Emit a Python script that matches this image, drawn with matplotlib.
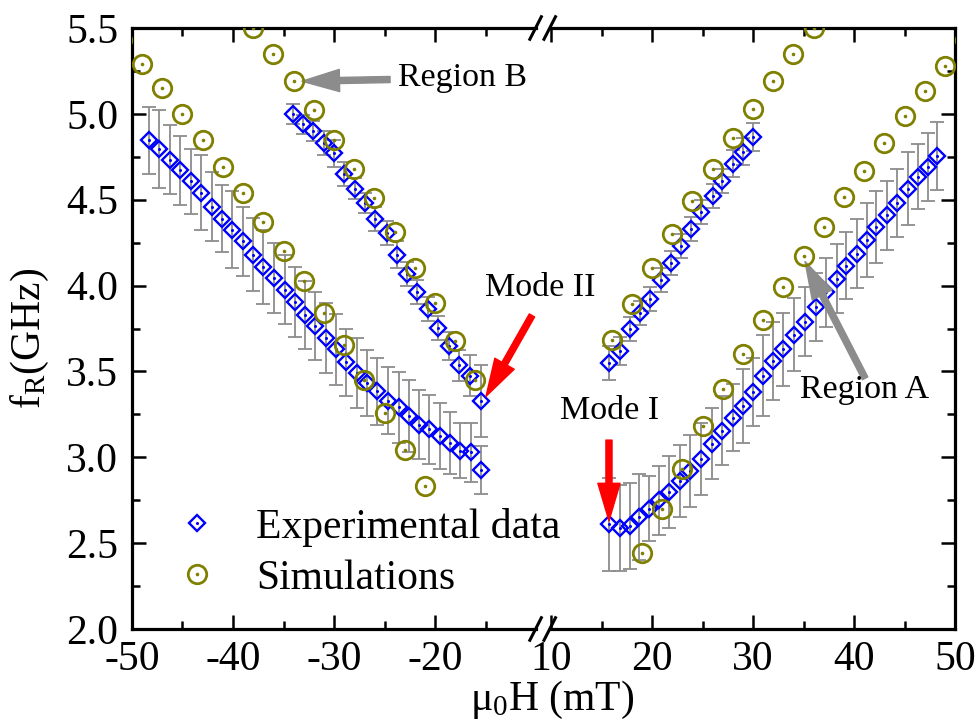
import numpy as np
import matplotlib
matplotlib.use("Agg")
import matplotlib.pyplot as plt
from matplotlib.lines import Line2D
from matplotlib.legend_handler import HandlerTuple

plt.rcParams['font.family'] = ['Liberation Serif', 'DejaVu Serif']
plt.rcParams['mathtext.fontset'] = 'custom'
plt.rcParams['mathtext.rm'] = 'Liberation Serif'
plt.rcParams['mathtext.it'] = 'Liberation Serif:italic'
plt.rcParams['axes.unicode_minus'] = False

# experimental data, negative field: lower branch (mode I) and upper branch (mode II)
exp_neg_low_h = [-48.3, -47.3, -46.2, -45.2, -44.2, -43.2, -42.1, -41.1, -40.1, -39.0,
                 -38.0, -37.0, -35.9, -34.9, -33.9, -32.9, -31.9, -30.8, -29.8, -28.8,
                 -27.7, -26.7, -25.7, -24.7, -23.6, -22.6, -21.6, -20.6, -19.5, -18.5,
                 -17.5, -16.4, -15.4]
exp_neg_low_f = [4.845, 4.795, 4.733, 4.671, 4.607, 4.54, 4.46, 4.39, 4.326, 4.257,
                 4.18, 4.11, 4.045, 3.977, 3.903, 3.83, 3.764, 3.696, 3.628, 3.554,
                 3.492, 3.434, 3.385, 3.33, 3.29, 3.24, 3.19, 3.163, 3.124, 3.085,
                 3.037, 3.028, 2.926]
exp_neg_low_err = [0.194, 0.225, 0.2, 0.2, 0.188, 0.219, 0.203, 0.196, 0.225, 0.2,
                   0.213, 0.215, 0.203, 0.2, 0.205, 0.198, 0.198, 0.205, 0.205, 0.196,
                   0.203, 0.192, 0.196, 0.194, 0.205, 0.21, 0.2, 0.2, 0.19, 0.18,
                   0.16, 0.17, 0.14]

exp_neg_up_h = [-34.1, -33.1, -32.1, -31.0, -30.0, -29.0, -27.9, -26.9, -25.9, -24.8,
                -23.8, -22.8, -21.8, -20.7, -19.7, -18.6, -17.6, -16.5, -15.4]
exp_neg_up_f = [5.00, 4.94, 4.90, 4.83, 4.77, 4.65, 4.565, 4.48, 4.39, 4.305,
                4.18, 4.07, 3.96, 3.865, 3.755, 3.648, 3.535, 3.475, 3.33]
exp_neg_up_err = [0.06, 0.055, 0.06, 0.07, 0.08, 0.07, 0.06, 0.06, 0.07, 0.07,
                  0.08, 0.07, 0.07, 0.07, 0.07, 0.08, 0.09, 0.12, 0.21]

# experimental data, positive field
exp_pos_up_h = [15.7, 16.8, 17.8, 18.8, 19.8, 20.9, 21.9, 22.9, 23.9, 24.9,
                26.0, 26.9, 28.0, 29.0, 30.0]
exp_pos_up_f = [3.55, 3.62, 3.745, 3.84, 3.92, 4.03, 4.13, 4.23, 4.33, 4.43,
                4.52, 4.61, 4.71, 4.78, 4.865]
exp_pos_up_err = [0.1, 0.08, 0.07, 0.07, 0.07, 0.07, 0.07, 0.07, 0.07, 0.07,
                  0.07, 0.07, 0.08, 0.08, 0.08]

exp_pos_low_h = [15.7, 16.8, 17.8, 18.7, 19.7, 20.7, 21.7, 22.8, 23.8, 24.9,
                 25.9, 26.9, 28.0, 29.0, 30.0, 31.0, 32.0, 33.0, 34.1, 35.1,
                 36.2, 37.2, 38.3, 39.2, 40.3, 41.3, 42.2, 43.3, 44.3, 45.3,
                 46.3, 47.3, 48.2]
exp_pos_low_f = [2.61, 2.59, 2.60, 2.65, 2.70, 2.75, 2.80, 2.86, 2.92, 2.99,
                 3.08, 3.155, 3.23, 3.30, 3.38, 3.475, 3.56, 3.63, 3.715, 3.79,
                 3.875, 3.96, 4.04, 4.115, 4.185, 4.265, 4.34, 4.41, 4.48, 4.565,
                 4.635, 4.69, 4.755]
exp_pos_low_err = [0.27, 0.25, 0.25, 0.25, 0.19, 0.2, 0.21, 0.21, 0.21, 0.21,
                   0.205, 0.2, 0.196, 0.217, 0.2, 0.236, 0.225, 0.213, 0.21, 0.2,
                   0.2, 0.2, 0.2, 0.196, 0.2, 0.213, 0.21, 0.2, 0.2, 0.21,
                   0.188, 0.198, 0.2]

# simulations
sim_neg_low_h = [-51, -49, -47, -45, -43, -41, -39, -37, -35, -33, -31, -29, -27, -25, -23, -21]
sim_neg_low_f = [5.43, 5.29, 5.15, 5.00, 4.85, 4.69, 4.54, 4.37, 4.20, 4.025,
                 3.84, 3.655, 3.45, 3.26, 3.04, 2.83]
sim_neg_up_h = [-38, -36, -34, -32, -30, -28, -26, -24, -22, -20, -18, -16]
sim_neg_up_f = [5.50, 5.35, 5.19, 5.025, 4.85, 4.68, 4.51, 4.31, 4.10, 3.90, 3.68, 3.45]
sim_pos_up_h = [16, 18, 20, 22, 24, 26, 28, 30, 32, 34, 36]
sim_pos_up_f = [3.685, 3.895, 4.10, 4.30, 4.495, 4.68, 4.86, 5.03, 5.19, 5.35, 5.50]
sim_pos_low_h = [19, 21, 23, 25, 27, 29, 31, 33, 35, 37, 39, 41, 43, 45, 47, 49, 51]
sim_pos_low_f = [2.44, 2.70, 2.93, 3.18, 3.40, 3.60, 3.80, 3.99, 4.17, 4.34,
                 4.515, 4.67, 4.83, 4.985, 5.135, 5.28, 5.43]

BLUE = '#0000ff'
OLIVE = '#808000'
GRAY = '#8c8c8c'
RED = '#ff0000'


def exp_series(ax, h, f, err):
    ax.errorbar(h, f, yerr=err, fmt='none', ecolor=GRAY, elinewidth=1.3,
                capsize=5, capthick=1.3, zorder=2)
    ax.plot(h, f, 'D', ls='none', ms=8.5, mfc='none', mec=BLUE, mew=1.7, zorder=3)
    ax.plot(h, f, 'o', ls='none', ms=2.2, mfc=BLUE, mec='none', zorder=3)


def sim_series(ax, h, f):
    ax.plot(h, f, 'o', ls='none', ms=13.3, mfc='none', mec=OLIVE, mew=2.0, zorder=4)
    ax.plot(h, f, 'o', ls='none', ms=2.6, mfc=OLIVE, mec='none', zorder=4)


fig = plt.figure(figsize=(9.8, 7.25), dpi=100)
ax1 = fig.add_axes([132 / 980, 96 / 725, 404 / 980, 601 / 725])
ax2 = fig.add_axes([551 / 980, 96 / 725, 404 / 980, 601 / 725], sharey=ax1)
ax1.patch.set_visible(False)
ax2.patch.set_visible(False)
ax1.set_zorder(3)

exp_series(ax1, exp_neg_low_h, exp_neg_low_f, exp_neg_low_err)
exp_series(ax1, exp_neg_up_h, exp_neg_up_f, exp_neg_up_err)
sim_series(ax1, sim_neg_low_h, sim_neg_low_f)
sim_series(ax1, sim_neg_up_h, sim_neg_up_f)

exp_series(ax2, exp_pos_up_h, exp_pos_up_f, exp_pos_up_err)
exp_series(ax2, exp_pos_low_h, exp_pos_low_f, exp_pos_low_err)
sim_series(ax2, sim_pos_up_h, sim_pos_up_f)
sim_series(ax2, sim_pos_low_h, sim_pos_low_f)

ax1.set_xlim(-50, -10)
ax2.set_xlim(10, 50)
ax1.set_ylim(2.0, 5.5)
ax1.set_xticks([-50, -40, -30, -20])
ax1.set_xticks([-45, -35, -25, -15], minor=True)
ax2.set_xticks([10, 20, 30, 40, 50])
ax2.set_xticks([15, 25, 35, 45], minor=True)
yt = np.arange(2.0, 5.51, 0.5)
ax1.set_yticks(yt)
ax1.set_yticklabels(['%.1f' % v for v in yt])
ax1.set_yticks(np.arange(2.25, 5.5, 0.5), minor=True)

for ax in (ax1, ax2):
    for s in ax.spines.values():
        s.set_linewidth(2.3)
    ax.tick_params(which='both', direction='in', width=1.8, labelsize=30, top=True)
    ax.tick_params(which='major', length=10, pad=8)
    ax.tick_params(which='minor', length=6)
ax1.spines['right'].set_visible(False)
ax2.spines['left'].set_visible(False)
ax1.tick_params(axis='y', which='both', left=True, right=False, pad=10)
ax2.tick_params(axis='y', which='both', left=False, right=True, labelleft=False)

# axis break marks
for yb in (0.0, 1.0):
    for x0 in (0.983, 1.018):
        ax1.plot([x0, x0 + 0.032], [yb - 0.021, yb + 0.021], color='black', lw=2.2,
                 transform=ax1.transAxes, clip_on=False, solid_capstyle='butt')

ax1.set_ylabel('f$_\\mathrm{R}$(GHz)', fontsize=30)
ax1.yaxis.set_label_coords(-0.2, 0.484)
fig.text(552 / 980, 1 - 710 / 725, 'μ$_0$H (mT)', ha='center', va='baseline', fontsize=30)

# legend
hd = Line2D([], [], ls='none', marker='D', ms=8.5, mfc='none', mec=BLUE, mew=1.7)
hdd = Line2D([], [], ls='none', marker='o', ms=2.2, mfc=BLUE, mec='none')
hc = Line2D([], [], ls='none', marker='o', ms=13.3, mfc='none', mec=OLIVE, mew=2.0)
hcd = Line2D([], [], ls='none', marker='o', ms=2.6, mfc=OLIVE, mec='none')
ax1.legend([(hd, hdd), (hc, hcd)], ['Experimental data', 'Simulations'],
           handler_map={tuple: HandlerTuple(ndivide=1)},
           loc='lower left', bbox_to_anchor=(0.109, 0.052), frameon=False,
           fontsize=30, handlelength=1.0, handletextpad=0.93, labelspacing=0.3,
           borderaxespad=0, borderpad=0)

# annotations
arrow = 'simple,head_length=1.35,head_width=0.8,tail_width=0.22'
ax1.annotate('', xy=(-33.17, 5.19), xytext=(-24.45, 5.2),
             arrowprops=dict(arrowstyle=arrow, color=GRAY, mutation_scale=20,
                             shrinkA=0, shrinkB=0))
ax1.text(-23.66, 5.21, 'Region B', fontsize=24.5, ha='left', va='center')

ax1.annotate('', xy=(-14.95, 3.355), xytext=(-10.4, 3.826),
             arrowprops=dict(arrowstyle=arrow, color=RED, mutation_scale=20,
                             shrinkA=0, shrinkB=0))
ax1.text(-15.05, 3.99, 'Mode II', fontsize=24.5, ha='left', va='center', clip_on=False)

ax2.annotate('', xy=(15.74, 2.63), xytext=(15.74, 3.10),
             arrowprops=dict(arrowstyle=arrow, color=RED, mutation_scale=20,
                             shrinkA=0, shrinkB=0))
ax2.text(10.9, 3.27, 'Mode I', fontsize=24.5, ha='left', va='center', clip_on=False)

ax2.annotate('', xy=(35.15, 4.14), xytext=(41.1, 3.46),
             arrowprops=dict(arrowstyle=arrow, color=GRAY, mutation_scale=20,
                             shrinkA=0, shrinkB=0))
ax2.text(34.65, 3.395, 'Region A', fontsize=24.5, ha='left', va='center')

fig.savefig('out.png', dpi=100)
